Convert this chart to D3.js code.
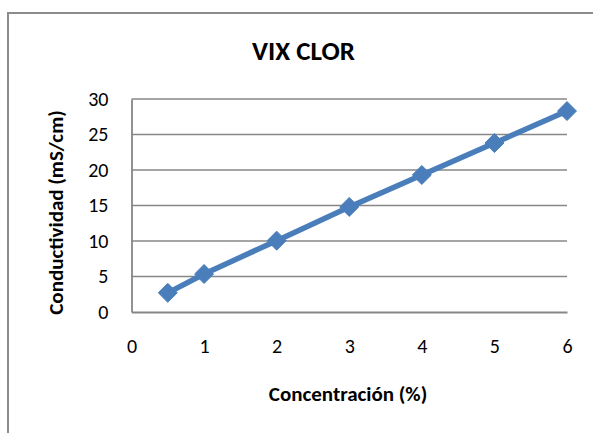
<!DOCTYPE html>
<html>
<head>
<meta charset="utf-8">
<script src="https://cdn.jsdelivr.net/npm/d3@7"></script>
<style>
  html, body { margin: 0; padding: 0; background: #fff; }
  svg { display: block; font-family: Carlito, Lato, "Open Sans", sans-serif; }
</style>
</head>
<body>
<svg id="chart" width="593" height="433"></svg>
<script>
const concentration = [0.5, 1, 2, 3, 4, 5, 6];
const conductivity = [2.7, 5.35, 10.05, 14.8, 19.3, 23.8, 28.3];
const xTicks = [0, 1, 2, 3, 4, 5, 6];
const yTicks = [0, 5, 10, 15, 20, 25, 30];
const title = "VIX CLOR";
const xTitle = "Concentración (%)";
const yTitle = "Conductividad (mS/cm)";

const svg = d3.select("#chart");
const W = 593, H = 433;
const plot = { left: 131.5, right: 567, top: 99, bottom: 312 };

const x = d3.scaleLinear().domain([0, 6]).range([plot.left, plot.right]);
const y = d3.scaleLinear().domain([0, 30]).range([plot.bottom, plot.top]);

// outer chart border
svg.append("rect")
  .attr("x", 8).attr("y", 13).attr("width", W + 10).attr("height", H + 10)
  .attr("fill", "#fff").attr("stroke", "#8c8c8c").attr("stroke-width", 2);

// horizontal gridlines
svg.append("g").selectAll("line").data(yTicks.filter(d => d > 0)).join("line")
  .attr("x1", plot.left).attr("x2", plot.right)
  .attr("y1", d => y(d)).attr("y2", d => y(d))
  .attr("stroke", "#878787").attr("stroke-width", 1.6);

// y axis
const yAxis = svg.append("g").attr("transform", `translate(${plot.left},0)`)
  .call(d3.axisLeft(y).tickValues(yTicks).tickFormat(d3.format("d")).tickSize(0).tickPadding(23));
yAxis.select(".domain").attr("stroke", "#878787").attr("stroke-width", 1.8);
yAxis.selectAll("text").attr("font-size", 20).attr("fill", "#000")
  .attr("font-family", "Carlito, Lato, sans-serif");

// x axis (labels below)
const xAxis = svg.append("g").attr("transform", `translate(0,${plot.bottom})`)
  .call(d3.axisBottom(x).tickValues(xTicks).tickFormat(d3.format("d")).tickSize(0).tickPadding(27));
xAxis.select(".domain").attr("stroke", "#878787").attr("stroke-width", 1.8);
xAxis.selectAll("text").attr("font-size", 20).attr("fill", "#000")
  .attr("font-family", "Carlito, Lato, sans-serif");

// series line
const pts = concentration.map((c, i) => [c, conductivity[i]]);
svg.append("path").datum(pts)
  .attr("fill", "none").attr("stroke", "#4a7ebb").attr("stroke-width", 5.5)
  .attr("stroke-linejoin", "round")
  .attr("d", d3.line().x(d => x(d[0])).y(d => y(d[1])));

// diamond markers
svg.append("g").selectAll("path").data(pts).join("path")
  .attr("transform", d => `translate(${x(d[0])},${y(d[1])})`)
  .attr("d", d3.symbol().type(d3.symbolDiamond2).size(230))
  .attr("fill", "#4a7ebb").attr("stroke", "#4a7ebb").attr("stroke-width", 1);

// title
svg.append("text").attr("x", 303.5).attr("y", 59.5).attr("text-anchor", "middle")
  .attr("font-size", 27).attr("font-weight", "bold").attr("fill", "#000").text(title);

// x title
svg.append("text").attr("x", 348).attr("y", 401).attr("text-anchor", "middle")
  .attr("font-size", 21).attr("font-weight", "bold").attr("fill", "#000").text(xTitle);

// y title
svg.append("text").attr("transform", `translate(63,${(plot.top + plot.bottom) / 2 + 7}) rotate(-90)`)
  .attr("text-anchor", "middle")
  .attr("font-size", 21).attr("font-weight", "bold").attr("fill", "#000").text(yTitle);
</script>
</body>
</html>
